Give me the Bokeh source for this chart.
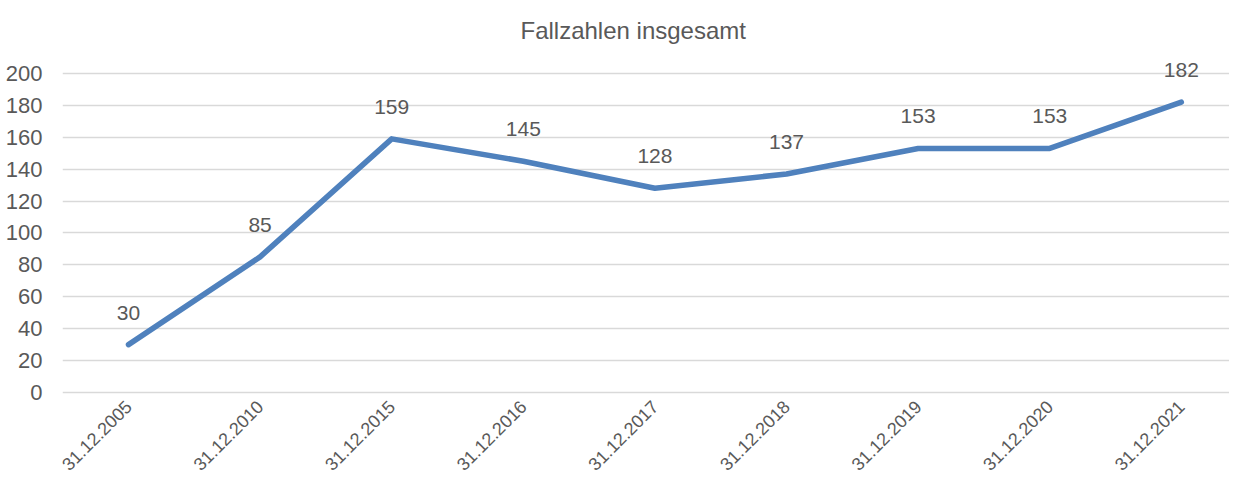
from bokeh.plotting import figure
from bokeh.models import Range1d, FixedTicker, ColumnDataSource
from bokeh.core.properties import value
from bokeh.embed import file_html
from bokeh.resources import INLINE
import math

categories = ["31.12.2005", "31.12.2010", "31.12.2015", "31.12.2016", "31.12.2017",
              "31.12.2018", "31.12.2019", "31.12.2020", "31.12.2021"]
cases = [30, 85, 159, 145, 128, 137, 153, 153, 182]
y_ticks = [0, 20, 40, 60, 80, 100, 120, 140, 160, 180, 200]
title_text = "Fallzahlen insgesamt"

FONT = "Liberation Sans"
GREY = "#595959"

xs = list(range(len(categories)))
src = ColumnDataSource(dict(x=xs, y=cases, label=[str(v) for v in cases]))

p = figure(width=1229, height=479, output_backend="svg", toolbar_location=None,
           x_range=Range1d(-0.5015, 8.366), y_range=Range1d(-1.25, 210.0),
           min_border_left=62, min_border_right=0, min_border_top=57, min_border_bottom=85,
           title=title_text)
p.title.align = "left"
p.title.offset = 458
p.title.text_font = FONT
p.title.text_font_size = "24px"
p.title.text_font_style = "normal"
p.title.text_color = GREY
p.title.standoff = 28

p.outline_line_color = None
p.background_fill_color = "white"
p.border_fill_color = "white"

p.line("x", "y", source=src, line_color="#4F81BD", line_width=5.5,
       line_join="round", line_cap="round")
p.text("x", "y", text="label", source=src, text_align="center", text_baseline="middle",
       y_offset=-32, text_font=value(FONT), text_font_size="21px", text_color=GREY)

p.xgrid.visible = False
p.ygrid.ticker = FixedTicker(ticks=y_ticks)
p.ygrid.grid_line_color = "#D9D9D9"
p.ygrid.grid_line_width = 1.5

p.yaxis.ticker = FixedTicker(ticks=y_ticks)
p.yaxis.axis_line_color = None
p.yaxis.major_tick_line_color = None
p.yaxis.minor_tick_line_color = None
p.yaxis.major_tick_out = 0
p.yaxis.major_tick_in = 0
p.yaxis.major_label_standoff = 20
p.yaxis.major_label_text_font = FONT
p.yaxis.major_label_text_font_size = "22px"
p.yaxis.major_label_text_color = GREY

p.xaxis.ticker = FixedTicker(ticks=xs)
p.xaxis.major_label_overrides = {i: c for i, c in zip(xs, categories)}
p.xaxis.axis_line_color = None
p.xaxis.major_tick_line_color = None
p.xaxis.minor_tick_line_color = None
p.xaxis.major_tick_out = 0
p.xaxis.major_tick_in = 0
p.xaxis.major_label_orientation = math.pi / 4
p.xaxis.major_label_standoff = 9
p.xaxis.major_label_text_font = FONT
p.xaxis.major_label_text_font_size = "18px"
p.xaxis.major_label_text_color = GREY

open("out.html", "w").write(file_html(p, INLINE))
